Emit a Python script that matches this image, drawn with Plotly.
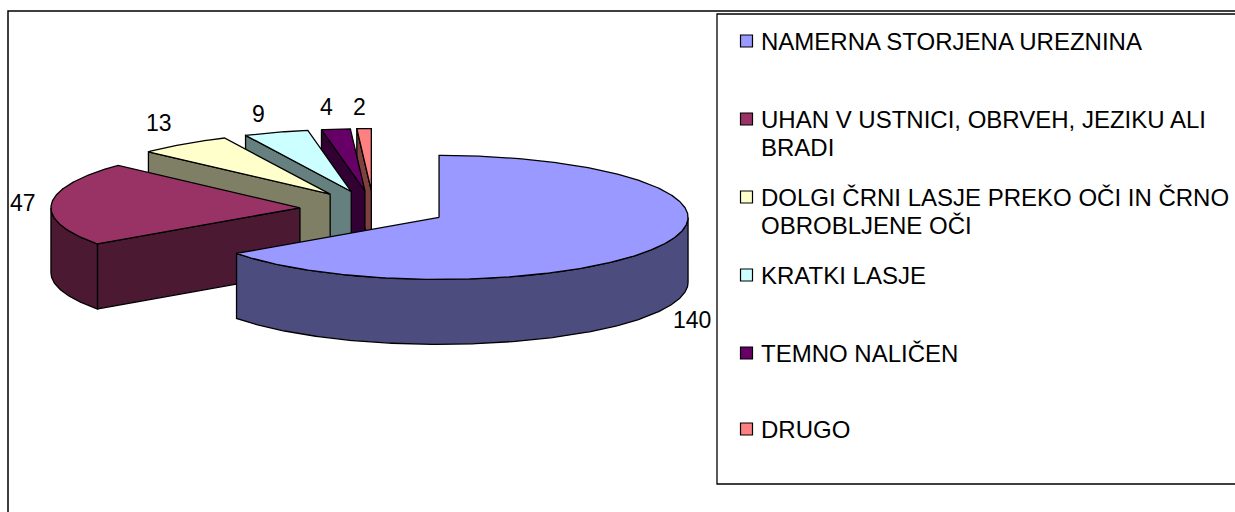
import math
import plotly.graph_objects as go

categories = ["NAMERNA STORJENA UREZNINA", "UHAN V USTNICI, OBRVEH, JEZIKU ALI<br>BRADI",
              "DOLGI ČRNI LASJE PREKO OČI IN ČRNO<br>OBROBLJENE OČI", "KRATKI LASJE",
              "TEMNO NALIČEN", "DRUGO"]
values = [140, 47, 13, 9, 4, 2]
top_colors = ["#9999FF", "#993366", "#FFFFCC", "#CCFFFF", "#660066", "#FF8080"]
side_colors = ["#4C4C7F", "#4C1933", "#7F7F66", "#667F7F", "#330033", "#7F4040"]

# pie geometry in pixel-like axis units
CX, CY, RX, RY, DEPTH, EXPLODE = 373.5, 209.0, 249.0, 62.0, 65.0, 0.296
label_pos = [(692, 320), (23, 203), (159, 123), (258, 114), (326, 107), (359, 107)]
legend_y = [41, 119, 197, 275, 353, 429]
LEGEND_LINE = 28
FONT = "Liberation Sans, Arial, sans-serif"
LINE = 1.3

fig = go.Figure()
total = sum(values)


def pt(ax, ay, deg, dy=0.0):
    r = math.radians(deg)
    return ax + RX * math.sin(r), ay - RY * math.cos(r) + dy


def arc(ax, ay, a0, a1, dy=0.0):
    n = max(2, int(abs(a1 - a0) * 1.5))
    return [pt(ax, ay, a0 + (a1 - a0) * i / n, dy) for i in range(n + 1)]


def poly(points, fill):
    xs = [p[0] for p in points] + [points[0][0]]
    ys = [p[1] for p in points] + [points[0][1]]
    fig.add_trace(go.Scatter(x=xs, y=ys, mode="lines", fill="toself", fillcolor=fill,
                             line=dict(color="#000000", width=LINE), hoverinfo="skip",
                             showlegend=False))


slices = []
start = 0.0
for i, v in enumerate(values):
    end = start + v / total * 360
    mid = math.radians((start + end) / 2)
    ax = CX + EXPLODE * RX * math.sin(mid)
    ay = CY - EXPLODE * RY * math.cos(mid)
    slices.append((i, start, end, ax, ay))
    start = end

# painter's order: back slices first, the front slice last
for i, a0, a1, ax, ay in reversed(slices):
    # radial cut face at the start angle (faces the viewer for back slices)
    if a0 > 180:
        s = pt(ax, ay, a0)
        poly([(ax, ay), s, (s[0], s[1] + DEPTH), (ax, ay + DEPTH)], side_colors[i])
    # outer rim, only where it faces the viewer
    w0, w1 = max(a0, 90), min(a1, 270)
    if w1 > w0:
        poly(arc(ax, ay, w0, w1) + arc(ax, ay, w1, w0, DEPTH), side_colors[i])
    # top face
    poly([(ax, ay)] + arc(ax, ay, a0, a1), top_colors[i])

# data labels
for v, (lx, ly) in zip(values, label_pos):
    fig.add_annotation(x=lx, y=ly, text=str(v), showarrow=False, borderpad=0,
                       font=dict(family=FONT, size=23, color="#000000"))

# legend
for cat, col, y in zip(categories, top_colors, legend_y):
    fig.add_trace(go.Scatter(x=[746.5], y=[y], mode="markers", hoverinfo="skip", showlegend=False,
                             marker=dict(symbol="square", size=12, color=col,
                                         line=dict(color="#000000", width=1.2))))
    for k, line in enumerate(cat.split("<br>")):
        fig.add_annotation(x=761, y=y + k * LEGEND_LINE, text=line, showarrow=False, xanchor="left",
                           align="left", borderpad=0, xshift=-1,
                           font=dict(family=FONT, size=24, color="#000000"))

# outer frame and legend box
fig.add_shape(type="rect", x0=8, y0=11, x1=1240, y1=520, line=dict(color="#000000", width=1.5), layer="below")
fig.add_shape(type="rect", x0=717, y0=14, x1=1240, y1=484, line=dict(color="#000000", width=1.3), layer="below")

fig.update_layout(width=1235, height=512, margin=dict(l=0, r=0, t=0, b=0),
                  paper_bgcolor="#FFFFFF", plot_bgcolor="#FFFFFF", showlegend=False,
                  xaxis=dict(range=[0, 1235], visible=False, fixedrange=True),
                  yaxis=dict(range=[512, 0], visible=False, fixedrange=True))
fig.write_html("out.html", config=dict(displayModeBar=False),
               post_script="document.body.style.margin='0';document.body.style.overflow='hidden';")
